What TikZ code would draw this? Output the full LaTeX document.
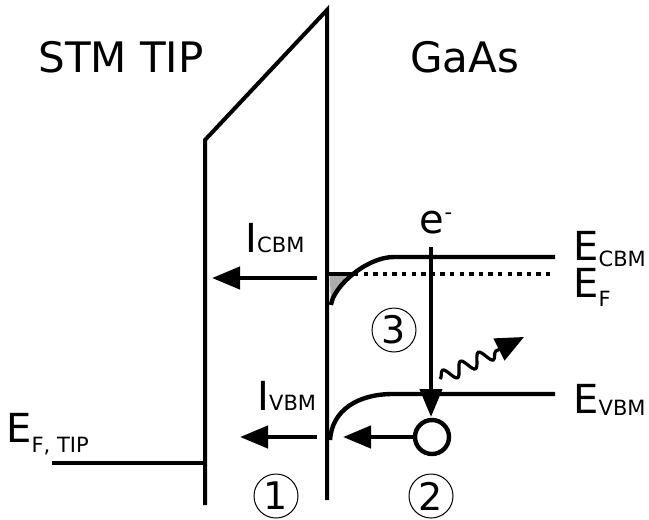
\documentclass[tikz,border=0pt]{standalone}
\usepackage{fontspec}
\setmainfont{DejaVu Sans}
\usetikzlibrary{arrows.meta,decorations.pathmorphing}
\tikzset{
  band/.style={line width=2.2pt},
  wall/.style={line width=2pt},
  bigarrow/.style={line width=2.2pt,-{Triangle[length=14pt,width=11pt]}},
  numcirc/.style={circle,draw,line width=0.5pt,minimum size=22pt,inner sep=0pt,font=\fontsize{19}{20}\selectfont},
  lbl/.style={inner sep=0pt,anchor=base west,font=\fontsize{20}{24}\selectfont},
  title/.style={inner sep=0pt,anchor=base west,font=\fontsize{21}{25}\selectfont},
}
\newcommand{\subtxt}[1]{{\fontsize{10.5}{12}\selectfont #1}}
\newcommand{\lowsub}[2]{\raisebox{-#1}[0pt][0pt]{\subtxt{#2}}}
\begin{document}
\begin{tikzpicture}[x=0.5pt,y=-0.5pt]
\useasboundingbox (0,0) rectangle (649,520);
% titles
\node[title] (stm) at (38,72) {STM TIP};
\node[title] (gaas) at (410,72) {GaAs};
% tip barrier
\coordinate (ef1) at (52,463);
\coordinate (tb) at (205,505);
\coordinate (tk) at (205,140);
\coordinate (pk) at (327,10);
\coordinate (sb) at (327,500);
\draw[wall,line join=miter] (tb) -- (tk) -- (pk) -- (sb);
\draw[band] (ef1) -- (205,463);
% gray area below Fermi level, left of CBM curve
\begin{scope}
\clip (329,274) rectangle (400,312);
\fill[gray!65] (331,305) .. controls (333,287) and (366,257) .. (394,257) -- (329,257) -- cycle;
\end{scope}
% CBM band
\draw[band] (331,305) .. controls (333,287) and (366,257) .. (394,257) -- (555,257);
% Fermi level
\draw[line width=2pt] (329,274) -- (352,274);
\draw[line width=2pt,dash pattern=on 2.2pt off 2.6pt] (354,274) -- (553,274);
% VBM band
\draw[band] (330,440) .. controls (332,410) and (358,394) .. (393,394) -- (555,394);
% labels right
\node[lbl] (ecbm) at (573,260) {E\lowsub{3pt}{CBM}};
\node[lbl] (ef) at (573,297) {E\lowsub{4.5pt}{F}};
\node[lbl] (evbm) at (573,413) {E\lowsub{1pt}{VBM}};
\node[lbl] (eftip) at (6,442) {E\lowsub{5pt}{F, TIP}};
% currents
\node[lbl] (icbm) at (245,252) {I\subtxt{CBM}};
\node[lbl] (ivbm) at (257,410) {I\subtxt{VBM}};
\coordinate (c1) at (317,278);
\coordinate (c2) at (212,278);
\draw[bigarrow] (c1) -- (c2);
\coordinate (v1) at (317,437);
\coordinate (v2) at (240,437);
\draw[bigarrow] (v1) -- (v2);
% hole
\node[circle,draw,line width=2.2pt,minimum size=17pt,inner sep=0pt] (hole) at (432,437) {};
\coordinate (h2) at (343,437);
\draw[bigarrow] (hole.west) -- (h2);
% electron
\node[inner sep=0pt,anchor=base,font=\fontsize{20}{24}\selectfont] (em) at (436,233) {e\raisebox{7pt}{\subtxt{-}}};
\coordinate (e1) at (431,247);
\coordinate (e2) at (431,417);
\draw[bigarrow] (e1) -- (e2);
% photon
\coordinate (p1) at (440,379);
\coordinate (p2) at (524,337);
\draw[line width=1.6pt,-{Triangle[length=14pt,width=12pt]},decorate,decoration={snake,amplitude=3.4pt,segment length=10pt,post length=13pt}] (p1) -- (p2);
% numbers
\node[numcirc] (n3) at (394,330) {3};
\node[numcirc] (n1) at (276,496) {1};
\node[numcirc] (n2) at (431,496) {2};
\end{tikzpicture}
\end{document}
